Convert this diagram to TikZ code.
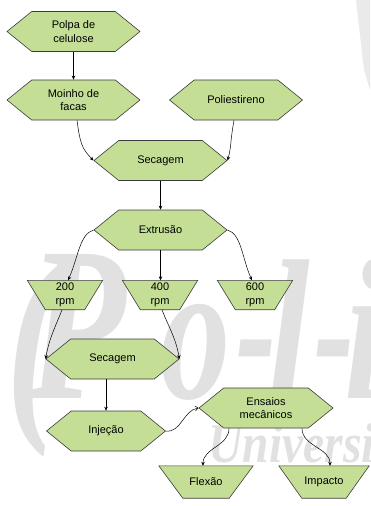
\documentclass[tikz,border=0pt]{standalone}
\usepackage{graphicx}
\usepackage{fontspec}
\setmainfont{Liberation Sans}
\newfontfamily\wmfont{Liberation Serif}
\usetikzlibrary{shapes.symbols,arrows.meta,calc,backgrounds}
\definecolor{boxgreen}{RGB}{196,222,150}
\definecolor{wmgray}{RGB}{225,225,225}
\definecolor{edgegray}{RGB}{60,60,60}
\newcommand{\trapshape}[2]{%
  \filldraw[trapdraw] (#1.north west) -- (#1.north east)
    -- ($(#1.south east)+(-#2,0)$) -- ($(#1.south west)+(#2,0)$) -- cycle;}
\begin{document}
\begin{tikzpicture}[x=1pt,y=-1pt,
  hexbox/.style={shape=signal, signal to=west and east, signal pointer angle=78,
    draw=edgegray, line width=0.6pt, fill=boxgreen, minimum width=133pt,
    minimum height=40pt, inner sep=0pt, align=center,
    font=\fontsize{11}{13.5}\selectfont},
  trapbox/.style={draw=none, minimum width=75pt, minimum height=29pt,
    inner sep=0pt, align=center, font=\fontsize{11}{13.5}\selectfont},
  trapdraw/.style={draw=edgegray, line width=0.6pt, fill=boxgreen},
  arr/.style={-{Stealth[length=4pt,width=3.5pt]}, line width=0.5pt},
  openarr/.style={-{Straight Barb[length=3pt,width=5pt]}, line width=0.5pt},
  wm/.style={text=wmgray, inner sep=0pt, anchor=base west,
    font=\wmfont\bfseries\itshape\fontsize{200}{200}\selectfont},
  wmsmall/.style={text=wmgray, inner sep=0pt, anchor=base west,
    font=\wmfont\bfseries\itshape\fontsize{56}{56}\selectfont},
]
\useasboundingbox (0,0) rectangle (370,506);

% nodes
\node[hexbox] (polpa) at (73.5,31.5) {Polpa de\\celulose};
\node[hexbox] (moinho) at (73.5,100) {Moinho de\\facas};
\node[hexbox] (poli) at (236,100) {Poliestireno};
\node[hexbox] (sec1) at (160.5,160.5) {Secagem};
\node[hexbox] (extr) at (160.5,230) {Extrusão};
\node[trapbox] (r200) at (65,295) {200\\rpm};
\node[trapbox] (r400) at (160,295) {400\\rpm};
\node[trapbox] (r600) at (255,295) {600\\rpm};
\node[hexbox] (sec2) at (112.5,359) {Secagem};
\node[hexbox, minimum width=119pt] (inj) at (106,431) {Injeção};
\node[hexbox, minimum width=134pt] (ens) at (266,408) {Ensaios\\mecânicos};
\node[trapbox, minimum width=94pt, minimum height=32pt] (flex) at (206,482) {Flexão};
\node[trapbox, minimum width=90pt, minimum height=32pt] (imp) at (324,482) {Impacto};

\begin{pgfonlayer}{background}
  \fill[white] (0,0) rectangle (370,506);
  % watermark
  \fill[wmgray!70] (356,0) -- (370,0) -- (370,90) -- (364,70) -- cycle;
  \node[wm] (wmA) at (6,410) {\scalebox{0.8}[1.1]{(}};
  \node[wm] (wmB) at (28,398) {\scalebox{0.8}[1.1]{P}};
  \node[wm] (wmC) at (160,398) {\scalebox{0.7}[1]{o}};
  \node[wm] (wmD) at (236,395) {\scalebox{0.6}[1]{-}};
  \node[wm] (wmE) at (268,398) {\scalebox{0.75}[1]{l}};
  \node[wm] (wmF) at (314,395) {\scalebox{0.6}[1]{-}};
  \node[wm] (wmG) at (344,398) {\scalebox{0.75}[1]{i}};
  \node[wmsmall] (wmH) at (208,462) {\scalebox{0.85}[1]{Universi}};
  % trapezoids
  \trapshape{r200}{18}
  \trapshape{r400}{18}
  \trapshape{r600}{18}
  \trapshape{flex}{24}
  \trapshape{imp}{23}
\end{pgfonlayer}

% connectors
\draw[arr] (polpa.south) -- (moinho.north);
\draw[arr] ([xshift=3.5pt]moinho.south) .. controls +(3,22) and +(-12,-12) .. (sec1.west);
\draw[arr] ([xshift=-2pt]poli.south) .. controls +(-4,22) and +(4,-14) .. (sec1.east);
\draw[arr] (sec1.south) -- (extr.north);
\draw[arr] (extr.west) .. controls +(-14,4) and +(10,-22) .. ([xshift=3pt]r200.north);
\draw[arr] (extr.south) -- (extr.south |- r400.north);
\draw[arr] (extr.east) .. controls +(14,4) and +(-10,-22) .. ([xshift=-3pt]r600.north);
\draw[arr] ([xshift=-3pt]r200.south) .. controls +(-6,16) and +(4,-22) .. (sec2.west);
\draw[arr] ([xshift=2pt]r400.south) .. controls +(6,16) and +(-4,-22) .. (sec2.east);
\draw[arr] (sec2.south -| inj.north) -- (inj.north);
\draw[openarr] (inj.east) .. controls +(15,2) and +(-15,2) .. (ens.west);
\draw[arr] ([xshift=-37pt]ens.south) .. controls +(0,18) and +(0,-18) .. ([xshift=-3pt]flex.north);
\draw[arr] ([xshift=36pt]ens.south) .. controls +(0,18) and +(0,-18) .. ([xshift=6pt]imp.north);
\end{tikzpicture}
\end{document}
